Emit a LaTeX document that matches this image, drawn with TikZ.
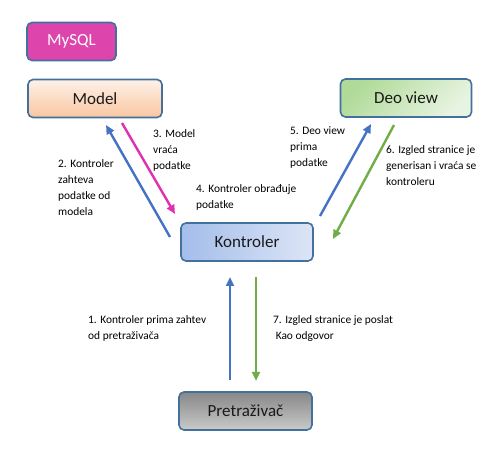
\documentclass[tikz,border=0pt]{standalone}
\usepackage{fontspec}
\setmainfont{Carlito}
\usetikzlibrary{arrows.meta}
\definecolor{bordc}{HTML}{41719C}
\definecolor{myblue}{HTML}{4472C4}
\definecolor{mymag}{HTML}{E030B0}
\definecolor{mygreen}{HTML}{70AD47}
\definecolor{sqlc}{HTML}{DD45AD}
\definecolor{peachA}{HTML}{FEF1E8}
\definecolor{peachB}{HTML}{F9C6A0}
\definecolor{greenA}{HTML}{B0DA98}
\definecolor{greenB}{HTML}{E8F4E2}
\definecolor{blueA}{HTML}{A4BDEA}
\definecolor{blueB}{HTML}{DCE5F6}
\definecolor{grayA}{HTML}{878787}
\definecolor{grayB}{HTML}{CACACA}
\tikzset{
  box/.style={draw=bordc, line width=1.6pt, rounded corners=5pt, minimum height=38pt, font=\fontsize{17}{20}\selectfont, text=black!90},
  lbl/.style={anchor=north west, align=left, font=\fontsize{11.4}{16}\selectfont, inner sep=0pt, text=black},
  arr/.style={line width=2.4pt, -{Triangle[length=9pt,width=8pt]}}
}
\begin{document}
\begin{tikzpicture}[x=1pt,y=-1pt]
\useasboundingbox[fill=white] (0,0) rectangle (504,457);
\node[box, fill=sqlc, text=white, minimum width=89pt] (sql) at (71.5,41.5) {MySQL};
\node[box, top color=peachA, bottom color=peachB, minimum width=134pt] (model) at (95,98.5) {Model};
\node[box, left color=greenA, right color=greenB, shading angle=45, minimum width=131pt] (view) at (406,98) {Deo view};
\node[box, left color=blueA, right color=blueB, minimum width=132pt] (ctrl) at (247,242) {Kontroler};
\node[box, top color=grayA, bottom color=grayB, minimum width=133pt] (browser) at (245.5,411) {Pretraživač};

\coordinate (a2s) at (170,237); \coordinate (a2e) at (106,125);
\coordinate (a3s) at (122,123); \coordinate (a3e) at (175,214);
\coordinate (a5s) at (320,216); \coordinate (a5e) at (371,124);
\coordinate (a6s) at (394,125); \coordinate (a6e) at (333,239);
\coordinate (a1s) at (230,380); \coordinate (a1e) at (230,277);
\coordinate (a7s) at (256,277); \coordinate (a7e) at (256,381);

\draw[arr, myblue] (a2s) -- (a2e);
\draw[arr, mymag] (a3s) -- (a3e);
\draw[arr, myblue] (a5s) -- (a5e);
\draw[arr, mygreen] (a6s) -- (a6e);
\draw[arr, myblue] (a1s) -- (a1e);
\draw[arr, mygreen] (a7s) -- (a7e);

\node[lbl] (t3) at (153,129) {3. Model\\vraća\\podatke};
\node[lbl] (t2) at (58,159) {2. Kontroler\\zahteva\\podatke od\\modela};
\node[lbl] (t4) at (196,184) {4. Kontroler obrađuje\\podatke};
\node[lbl] (t5) at (290,126) {5. Deo view\\prima\\podatke};
\node[lbl] (t6) at (386,145) {6. Izgled stranice je\\generisan i vraća se\\kontroleru};
\node[lbl] (t1) at (88,315) {1. Kontroler prima zahtev\\od pretraživača};
\node[lbl] (t7) at (273,315) {7. Izgled stranice je poslat\\\ Kao odgovor};
\end{tikzpicture}
\end{document}
